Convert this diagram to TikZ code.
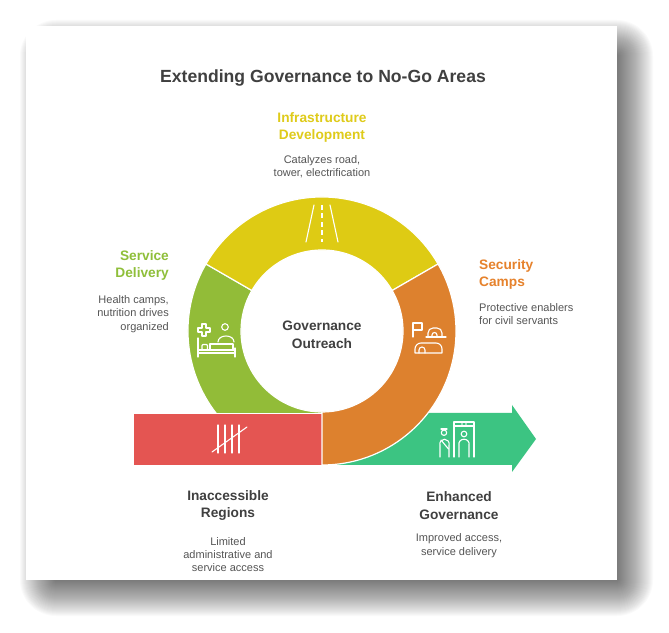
\documentclass[tikz,border=0pt]{standalone}
\usepackage{fontspec}
\setmainfont{Liberation Sans}
\usepackage{xcolor}
\usetikzlibrary{
    calc,
    positioning
}

\definecolor{ringyellow}{HTML}{DECB14}
\definecolor{ringgreen}{HTML}{92BC38}
\definecolor{ringorange}{HTML}{DD812E}
\definecolor{barred}{HTML}{E45552}
\definecolor{arrowgreen}{HTML}{3CC482}
\definecolor{darktext}{HTML}{404040}
\definecolor{desctext}{HTML}{555555}
\definecolor{infratext}{HTML}{DFCB1A}
\definecolor{servicetext}{HTML}{8FBF3A}
\definecolor{securitytext}{HTML}{E6822C}

\begin{document}
\begin{tikzpicture}[x=1pt, y=1pt,
    title/.style={font=\bfseries\fontsize{17.6}{21}\selectfont, text=darktext, inner sep=0},
    head/.style={font=\bfseries\fontsize{13.7}{17.8}\selectfont, text=darktext, align=center, inner sep=0},
    desc/.style={font=\fontsize{11}{13.4}\selectfont, text=desctext, align=center, inner sep=0},
    seg/.style={draw=white, line width=1.2pt, line join=round},
    icon/.style={draw=white, line width=1.1pt, line cap=round, line join=round}]

    \useasboundingbox (0,0) rectangle (669,632);

    % card and its shadow
    \foreach \s in {1,...,36}
        \fill[black, opacity=0.02, rounded corners=\s pt] (56-\s, 52-\s) rectangle (617+\s, 576+\s);
    \fill[white] (26,52) rectangle (617,606);

    % ring
    \begin{scope}[shift={(322,301)}]
        \fill[ringgreen, seg] (150:134) arc[start angle=150, end angle=270, radius=134]
            -- (270:81) arc[start angle=270, end angle=150, radius=81] -- cycle;
        \fill[ringyellow, seg] (30:134) arc[start angle=30, end angle=150, radius=134]
            -- (150:81) arc[start angle=150, end angle=30, radius=81] -- cycle;
    \end{scope}

    % bar and arrow
    \node[fill=barred, draw=white, line width=0.8pt, minimum width=189pt, minimum height=52pt, inner sep=0] (bar) at (227.5,193) {};
    \fill[arrowgreen] (326,219) -- (512,219) -- (512,227) -- (536,193) -- (512,160) -- (512,167) -- (326,167) -- cycle;

    \begin{scope}[shift={(322,301)}]
        \fill[ringorange, seg] (-90:134) arc[start angle=-90, end angle=30, radius=134]
            -- (30:81) arc[start angle=30, end angle=-90, radius=81] -- cycle;
    \end{scope}

    % road
    \draw[icon] (314,427) -- (306,390) (330,427) -- (338,390);
    \draw[icon, line cap=butt, dash pattern=on 5pt off 3.5pt] (322,427) -- (322,390);

    % health
    \draw[icon] (202,308) -- (206,308) -- (206,304) -- (210,304) -- (210,300) -- (206,300) -- (206,296)
        -- (202,296) -- (202,300) -- (198,300) -- (198,304) -- (202,304) -- cycle;
    \draw[icon] (225,305) circle (3.3);
    \draw[icon] (218,290) .. controls (218,298) and (234,298) .. (234,290);
    \draw[icon] (198,294) -- (198,275) (198,282) -- (235,282) (198,279) -- (235,279) (235,284) -- (235,275);
    \draw[icon] (210,282) -- (210,288) -- (233,288) -- (233,282);
    \draw[icon, rounded corners=1pt] (202,282) rectangle (207.5,287.5);

    % camps
    \draw[icon] (413,295) -- (413,309) -- (422,309) -- (422,302) -- (413,302);
    \draw[icon] (426,295) -- (446,295);
    \draw[icon] (428,295) -- (428,299) arc[start angle=180, end angle=90, radius=5] -- (437,304)
        arc[start angle=90, end angle=0, radius=5] -- (442,295);
    \draw[icon] (432,295) -- (432,297) arc[start angle=180, end angle=0, radius=2.5] -- (437,295);
    \draw[icon] (415,279) -- (415,283) arc[start angle=180, end angle=90, radius=6] -- (436,289)
        arc[start angle=90, end angle=0, radius=6] -- (442,279) -- cycle;
    \draw[icon] (419,279) -- (419,282) arc[start angle=180, end angle=0, radius=3] -- (425,279);

    % tally
    \foreach \x in {218,225,232,239}
        \draw[icon] (\x,207) -- (\x,179);
    \draw[icon] (212,180) -- (247,205);

    % guard and scanner
    \draw[icon] (444,199.3) circle (2.7);
    \draw[icon] (441,203) -- (447,203);
    \draw[icon] (440,175) -- (440,186) .. controls (438,195) and (451,195) .. (449,186) -- (449,175);
    \draw[icon] (441,192) -- (448.5,183);
    \draw[icon] (454,175) -- (454,210) -- (474,210) -- (474,175);
    \draw[icon] (454,206) -- (474,206);
    \fill[white] (462,208) circle (0.8) (466,208) circle (0.8);
    \draw[icon] (464,198) circle (2.8);
    \draw[icon] (459,175) -- (459,186) .. controls (457,195) and (471,195) .. (469,186) -- (469,175);

    % texts
    \node[title] (heading) at (323,554.5) {Extending Governance to No-Go Areas};
    \node[head, text=infratext] (infra) at (322,504.5) {Infrastructure\\Development};
    \node[desc] (infradesc) at (322,465.5) {Catalyzes road,\\tower, electrification};
    \node[head, text=servicetext, align=right, anchor=east] (service) at (169,366.5) {Service\\Delivery};
    \node[desc, align=right, anchor=east] (servicedesc) at (169,318) {Health camps,\\nutrition drives\\organized};
    \node[head, text=securitytext, align=left, anchor=west] (security) at (479,357.5) {Security\\Camps};
    \node[desc, align=left, anchor=west] (securitydesc) at (479,318) {Protective enablers\\for civil servants};
    \node[head] (outreach) at (322,297.5) {Governance\\Outreach};
    \node[head] (regions) at (228,126.5) {Inaccessible\\Regions};
    \node[desc] (regionsdesc) at (228,77.5) {Limited\\administrative and\\service access};
    \node[head] (enhanced) at (459,126.5) {Enhanced\\Governance};
    \node[desc] (enhanceddesc) at (459,86.5) {Improved access,\\service delivery};
\end{tikzpicture}
\end{document}
